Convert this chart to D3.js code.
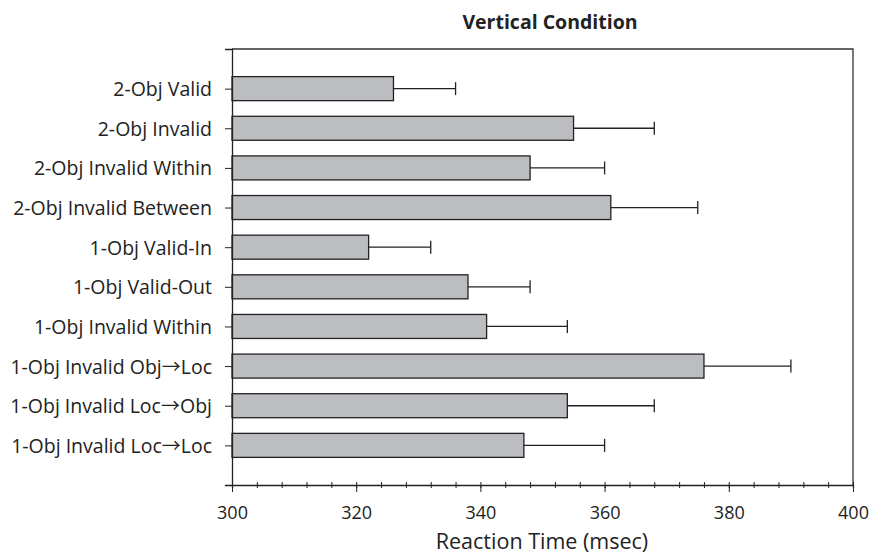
<!DOCTYPE html>
<html>
<head>
<meta charset="utf-8">
<script src="https://cdn.jsdelivr.net/npm/d3@7"></script>
<style>
  body { margin: 0; background: #fff; }
  svg { font-family: "Open Sans", sans-serif; }
</style>
</head>
<body>
<div id="chart"></div>
<script>
// Data
const categories = [
  '2-Obj Valid',
  '2-Obj Invalid',
  '2-Obj Invalid Within',
  '2-Obj Invalid Between',
  '1-Obj Valid-In',
  '1-Obj Valid-Out',
  '1-Obj Invalid Within',
  '1-Obj Invalid Obj\u2192Loc',
  '1-Obj Invalid Loc\u2192Obj',
  '1-Obj Invalid Loc\u2192Loc'
];
const meanRT = [326, 355, 348, 361, 322, 338, 341, 376, 354, 347];
const errRT = [10, 13, 12, 14, 10, 10, 13, 14, 14, 13];
const xTicks = [300, 320, 340, 360, 380, 400];

const width = 870;
const height = 554;
const margin = { top: 49, right: 17, bottom: 69, left: 232 };

const svg = d3.select('#chart')
  .append('svg')
  .attr('width', width)
  .attr('height', height);

const x = d3.scaleLinear()
  .domain([300, 400])
  .range([margin.left, width - margin.right]);

const y = d3.scalePoint()
  .domain(categories)
  .range([margin.top, height - margin.bottom])
  .padding(1);

const barH = 24;
const data = categories.map((c, i) => ({ name: c, mean: meanRT[i], err: errRT[i] }));

// Frame (top and right)
svg.append('path')
  .attr('d', `M${x(300)},${margin.top}H${x(400)}V${height - margin.bottom}`)
  .attr('fill', 'none')
  .attr('stroke', '#333')
  .attr('stroke-width', 1.3);

// Error bars
const eb = svg.append('g')
  .attr('stroke', '#222')
  .attr('stroke-width', 1.3);
eb.selectAll('.err')
  .data(data)
  .enter().append('line')
  .attr('x1', d => x(d.mean))
  .attr('x2', d => x(d.mean + d.err))
  .attr('y1', d => y(d.name))
  .attr('y2', d => y(d.name));
eb.selectAll('.cap')
  .data(data)
  .enter().append('line')
  .attr('x1', d => x(d.mean + d.err))
  .attr('x2', d => x(d.mean + d.err))
  .attr('y1', d => y(d.name) - 6.5)
  .attr('y2', d => y(d.name) + 6.5);

// Bars
svg.selectAll('.bar')
  .data(data)
  .enter().append('rect')
  .attr('class', 'bar')
  .attr('x', x(300))
  .attr('y', d => y(d.name) - barH / 2)
  .attr('width', d => x(d.mean) - x(300))
  .attr('height', barH)
  .attr('fill', '#bcbdc1')
  .attr('stroke', '#222')
  .attr('stroke-width', 1.3);

// X axis: minor ticks every 4 msec, labelled every 20
const xAxisG = svg.append('g')
  .attr('transform', `translate(0,${height - margin.bottom})`);
xAxisG.call(d3.axisBottom(x).tickValues(d3.range(300, 401, 4)).tickSize(3).tickFormat(''))
  .call(g => g.selectAll('.tick line').attr('y1', -3).attr('stroke', '#222'));
xAxisG.append('g')
  .call(d3.axisBottom(x).tickValues(xTicks).tickSize(7).tickPadding(14))
  .call(g => g.select('.domain').remove())
  .call(g => g.selectAll('.tick line').attr('stroke', '#222'))
  .call(g => g.selectAll('.tick text')
    .attr('fill', '#222')
    .style('font-size', '18px')
    .style('font-family', '"Open Sans", sans-serif'));
xAxisG.select('.domain').attr('stroke', '#222').attr('stroke-width', 1.3);

// Y axis
const yAxisG = svg.append('g')
  .attr('transform', `translate(${margin.left},0)`)
  .call(d3.axisLeft(y).tickSize(7).tickPadding(13).tickSizeOuter(7))
  .call(g => g.select('.domain').attr('stroke', '#222').attr('stroke-width', 1.3))
  .call(g => g.selectAll('.tick line').attr('stroke', '#222'))
  .call(g => g.selectAll('.tick text')
    .attr('fill', '#222')
    .attr('dy', '0.36em')
    .style('font-size', '19.5px')
    .style('font-family', '"Open Sans", sans-serif'));

// the arrow glyph in Open Sans is tiny, use the thin full-width CJK arrow
yAxisG.selectAll('.tick text').each(function(d) {
  const parts = d.split('\u2192');
  if (parts.length < 2) return;
  const t = d3.select(this).text('');
  t.append('tspan').text(parts[0]);
  t.append('tspan')
    .style('font-family', '"Noto Sans CJK JP", sans-serif')
    .style('font-size', '19px')
    .text('\u2192');
  t.append('tspan').text(parts[1]);
});

// Title
svg.append('text')
  .attr('x', 550)
  .attr('y', 29)
  .attr('text-anchor', 'middle')
  .style('font-size', '19.5px')
  .style('font-weight', 'bold')
  .attr('fill', '#222')
  .text('Vertical Condition');

// X label
svg.append('text')
  .attr('x', 542)
  .attr('y', 549)
  .attr('text-anchor', 'middle')
  .style('font-size', '21.5px')
  .attr('fill', '#222')
  .text('Reaction Time (msec)');
</script>
</body>
</html>
